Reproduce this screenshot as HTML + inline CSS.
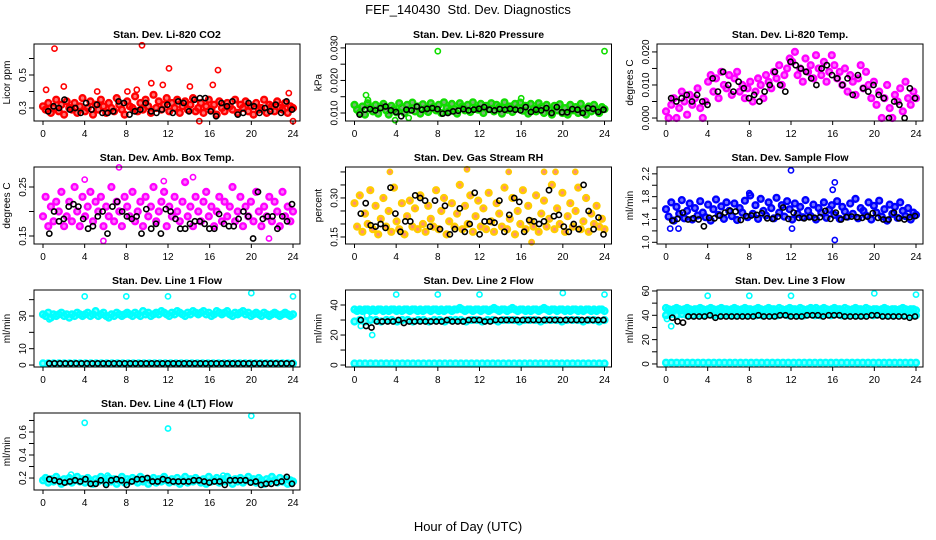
<!DOCTYPE html>
<html><head><meta charset="utf-8">
<style>
html,body{margin:0;padding:0;background:#fff;}
svg{display:block;font-family:"Liberation Sans",Arial,sans-serif;}
</style></head>
<body>
<svg id="chart" width="936" height="540" viewBox="0 0 936 540" xmlns="http://www.w3.org/2000/svg">
<rect x="0" y="0" width="936" height="540" fill="#fff"/>
<text x="468" y="14" text-anchor="middle" font-size="13" xml:space="preserve">FEF_140430  Std. Dev. Diagnostics</text>
<text x="468" y="531" text-anchor="middle" font-size="13">Hour of Day (UTC)</text>
<g id="panels"></g>
</svg>
<script>
// ---- data ----
const xTicks = [0,4,8,12,16,20,24];
const panelTitles = ["Stan. Dev. Li-820 CO2","Stan. Dev. Li-820 Pressure","Stan. Dev. Li-820 Temp.","Stan. Dev. Amb. Box Temp.","Stan. Dev. Gas Stream RH","Stan. Dev. Sample Flow","Stan. Dev. Line 1 Flow","Stan. Dev. Line 2 Flow","Stan. Dev. Line 3 Flow","Stan. Dev. Line 4 (LT) Flow"];
const yUnits = ["Licor ppm","kPa","degrees C","degrees C","percent","ml/min","ml/min","ml/min","ml/min","ml/min"];

const co2Main = [0.31,0.29,0.33,0.27,0.30,0.35,0.28,0.32,0.26,0.34,0.30,0.29,0.33,0.27,0.31,0.36,0.28,0.30,0.34,0.26,0.32,0.29,0.35,0.31,0.27,0.33,0.30,0.28,0.36,0.32,0.29,0.26,0.34,0.31,0.30,0.37,0.28,0.33,0.29,0.35,0.31,0.27,0.38,0.30,0.34,0.29,0.32,0.36,0.28,0.33,0.30,0.35,0.27,0.31,0.34,0.29,0.32,0.36,0.28,0.30,0.33,0.27,0.31,0.35,0.29,0.32,0.26,0.34,0.30,0.28,0.33,0.31,0.29,0.35,0.27,0.32,0.30,0.34,0.28,0.31,0.26,0.33,0.29,0.30,0.35,0.27,0.32,0.31,0.28,0.34,0.30,0.29,0.33,0.27,0.31,0.30];
const co2Black = [0.28,0.31,0.30,0.35,0.29,0.30,0.27,0.33,0.29,0.32,0.27,0.27,0.28,0.34,0.33,0.26,0.28,0.29,0.33,0.28,0.27,0.29,0.32,0.27,0.34,0.33,0.28,0.35,0.36,0.36,0.28,0.25,0.33,0.31,0.34,0.26,0.27,0.33,0.31,0.27,0.30,0.28,0.32,0.27,0.34,0.29];
const co2OutX = [1.1,9.5,12.1,16.8,10.4,0.3,2.0,5.2,8.1,14.1,16.3,11.5,23.6,15.0,24.0,9.0];
const co2OutY = [0.66,0.68,0.54,0.53,0.45,0.41,0.43,0.40,0.40,0.43,0.44,0.44,0.39,0.22,0.22,0.41];

const presMain = [0.0125,0.0110,0.0100,0.0120,0.0095,0.0130,0.0115,0.0105,0.0125,0.0098,0.0118,0.0128,0.0108,0.0095,0.0122,0.0112,0.0102,0.0130,0.0117,0.0100,0.0125,0.0110,0.0132,0.0105,0.0120,0.0098,0.0127,0.0113,0.0103,0.0130,0.0118,0.0108,0.0125,0.0100,0.0133,0.0115,0.0105,0.0128,0.0112,0.0098,0.0130,0.0120,0.0108,0.0125,0.0103,0.0133,0.0115,0.0110,0.0128,0.0100,0.0122,0.0112,0.0130,0.0105,0.0125,0.0117,0.0098,0.0133,0.0110,0.0120,0.0103,0.0128,0.0115,0.0132,0.0107,0.0122,0.0098,0.0128,0.0113,0.0105,0.0130,0.0118,0.0100,0.0125,0.0110,0.0095,0.0122,0.0108,0.0127,0.0100,0.0115,0.0095,0.0125,0.0108,0.0118,0.0100,0.0128,0.0112,0.0095,0.0120,0.0105,0.0125,0.0110,0.0100,0.0118,0.0112];
const presBlack = [0.0095,0.0110,0.0112,0.0108,0.0115,0.0120,0.0108,0.0103,0.0090,0.0110,0.0108,0.0120,0.0110,0.0113,0.0115,0.0112,0.0098,0.0100,0.0105,0.0107,0.0112,0.0108,0.0110,0.0113,0.0118,0.0110,0.0108,0.0112,0.0110,0.0113,0.0110,0.0108,0.0118,0.0103,0.0110,0.0108,0.0115,0.0100,0.0118,0.0102,0.0102,0.0112,0.0110,0.0100,0.0115,0.0113,0.0103,0.0110];
const presOutX = [8.0,24.0,1.1,16.0,5.2,3.9,1.3];
const presOutY = [0.029,0.029,0.0155,0.0145,0.0085,0.0078,0.0140];

const tempMain = [0.002,0.000,0.004,0.006,0.000,0.003,0.008,0.005,0.001,0.007,0.004,0.006,0.009,0.003,0.000,0.005,0.011,0.013,0.008,0.012,0.006,0.014,0.010,0.009,0.013,0.007,0.012,0.014,0.008,0.010,0.006,0.009,0.011,0.005,0.008,0.012,0.010,0.006,0.013,0.011,0.009,0.014,0.012,0.016,0.010,0.013,0.015,0.018,0.017,0.020,0.013,0.015,0.011,0.018,0.014,0.016,0.012,0.019,0.015,0.013,0.017,0.011,0.014,0.019,0.016,0.012,0.014,0.010,0.015,0.008,0.013,0.011,0.007,0.012,0.016,0.009,0.014,0.010,0.006,0.011,0.004,0.008,0.000,0.006,0.010,0.003,0.000,0.007,0.005,0.009,0.002,0.011,0.006,0.004,0.008,0.006];
const tempBlack = [0.006,0.005,0.006,0.007,0.005,0.007,0.005,0.004,0.012,0.008,0.014,0.010,0.008,0.011,0.009,0.006,0.007,0.005,0.008,0.010,0.014,0.010,0.008,0.017,0.016,0.015,0.014,0.012,0.010,0.015,0.016,0.013,0.012,0.010,0.012,0.007,0.013,0.009,0.008,0.010,0.007,0.006,0.000,0.005,0.004,0.000,0.009,0.006];

const ambMain = [0.19,0.23,0.17,0.21,0.18,0.22,0.20,0.24,0.17,0.19,0.22,0.18,0.25,0.20,0.17,0.23,0.19,0.21,0.24,0.18,0.22,0.20,0.23,0.17,0.21,0.19,0.25,0.18,0.22,0.20,0.17,0.23,0.21,0.19,0.24,0.18,0.20,0.22,0.17,0.23,0.19,0.21,0.25,0.18,0.20,0.22,0.24,0.17,0.21,0.19,0.23,0.20,0.18,0.22,0.26,0.19,0.21,0.17,0.23,0.20,0.18,0.22,0.24,0.19,0.21,0.17,0.20,0.23,0.18,0.22,0.19,0.21,0.25,0.18,0.20,0.23,0.17,0.21,0.19,0.22,0.18,0.24,0.20,0.17,0.21,0.19,0.23,0.18,0.22,0.20,0.17,0.24,0.19,0.21,0.18,0.20];
const ambBlack = [0.155,0.20,0.18,0.185,0.21,0.215,0.21,0.185,0.165,0.17,0.19,0.20,0.155,0.21,0.22,0.20,0.19,0.185,0.19,0.155,0.205,0.165,0.175,0.155,0.205,0.20,0.185,0.165,0.165,0.175,0.18,0.18,0.175,0.165,0.165,0.195,0.175,0.17,0.17,0.185,0.20,0.19,0.145,0.24,0.185,0.19,0.19,0.165,0.19,0.18,0.215];
const ambOutX = [7.3,5.8,4.0,14.4,11.6,21.7];
const ambOutY = [0.29,0.14,0.265,0.27,0.262,0.145];

const rhMain = [0.28,0.19,0.31,0.17,0.24,0.20,0.33,0.18,0.27,0.16,0.22,0.30,0.19,0.25,0.17,0.34,0.21,0.18,0.28,0.16,0.23,0.29,0.19,0.26,0.18,0.31,0.20,0.17,0.27,0.22,0.19,0.33,0.18,0.25,0.30,0.16,0.21,0.28,0.19,0.24,0.35,0.18,0.27,0.20,0.31,0.17,0.23,0.29,0.19,0.26,0.18,0.32,0.21,0.17,0.28,0.24,0.19,0.34,0.18,0.22,0.30,0.16,0.25,0.20,0.33,0.18,0.27,0.21,0.19,0.31,0.17,0.24,0.29,0.19,0.22,0.35,0.18,0.26,0.20,0.32,0.17,0.23,0.28,0.19,0.25,0.34,0.18,0.21,0.30,0.17,0.24,0.20,0.27,0.19,0.22,0.18];
const rhBlack = [0.24,0.28,0.195,0.19,0.20,0.185,0.34,0.24,0.17,0.21,0.21,0.31,0.30,0.29,0.19,0.29,0.18,0.27,0.16,0.18,0.26,0.17,0.20,0.32,0.16,0.21,0.21,0.205,0.29,0.17,0.235,0.30,0.285,0.17,0.215,0.21,0.20,0.21,0.33,0.23,0.235,0.19,0.17,0.20,0.18,0.35,0.25,0.18,0.225,0.16];
const rhOutX = [3.4,10.8,14.8,17.0,18.2,19.3,21.2];
const rhOutY = [0.40,0.41,0.40,0.13,0.40,0.40,0.40];

const flowMain = [1.58,1.45,1.70,1.38,1.62,1.50,1.74,1.42,1.55,1.68,1.40,1.60,1.47,1.72,1.52,1.44,1.66,1.38,1.58,1.75,1.48,1.63,1.41,1.70,1.55,1.46,1.68,1.39,1.60,1.52,1.73,1.44,1.82,1.50,1.65,1.41,1.76,1.55,1.47,1.70,1.60,1.42,1.78,1.52,1.65,1.45,1.72,1.58,1.40,1.68,1.50,1.62,1.44,1.74,1.55,1.46,1.66,1.40,1.60,1.52,1.70,1.43,1.57,1.65,1.48,1.72,1.41,1.62,1.54,1.45,1.68,1.50,1.76,1.42,1.60,1.55,1.47,1.70,1.40,1.64,1.52,1.73,1.45,1.58,1.38,1.66,1.50,1.62,1.43,1.70,1.55,1.46,1.60,1.40,1.52,1.48];
const flowBlack = [1.38,1.41,1.52,1.40,1.42,1.40,1.28,1.43,1.42,1.47,1.52,1.55,1.54,1.39,1.46,1.47,1.48,1.51,1.42,1.41,1.45,1.61,1.41,1.52,1.43,1.42,1.44,1.43,1.44,1.55,1.41,1.52,1.40,1.44,1.45,1.44,1.43,1.45,1.51,1.43,1.40,1.40,1.52,1.42,1.40,1.44,1.46];
const flowOutX = [12.0,16.2,16.0,16.2,0.4,1.2,12.1,8.0];
const flowOutY = [2.26,2.05,1.92,1.04,1.24,1.24,1.24,1.86];

const l1High = [31,30,32,29,31,30,31,32,30,31,29,31,30,32,31,30,31,32,30,31,33,30,31,32,30,29,31,30,32,31,30,31,32,31,30,32,31,30,33,31,32,30,31,32,31,33,32,31,30,32,31,33,32,31,30,32,31,33,32,31,32,33,31,32,30,31,33,32,31,32,33,31,30,32,31,32,33,31,32,30,31,32,31,30,32,31,30,31,32,31,30,31,32,31,30,31];
const l1Low = [1,1,1,1,1,1,1,1,1,1,1,1,1,1,1,1,1,1,1,1,1,1,1,1,1,1,1,1,1,1,1,1,1,1,1,1,1,1,1,1,1,1,1,1,1,1,1,1];
const l1Black = [1,1,1,1,1,1,1,1,1,1,1,1,1,1,1,1,1,1,1,1,1,1,1,1,1,1,1,1,1,1,1,1,1,1,1,1,1,1,1,1,1,1,1,1,1,1];
const l1OutX = [4.0,8.0,12.0,20.0,24.0,0.6];
const l1OutY = [42,42,42,44,42,28];

const l2High = [37,36,37,36,37,37,36,37,36,37,37,36,37,36,37,37,36,37,36,37,37,36,37,37,36,37,36,37,37,36,37,37,36,37,36,37,37,36,37,37,38,37,36,37,37,36,37,37,36,37,37,36,37,38,37,36,37,37,36,37,38,37,36,37,37,36,37,36,37,37,36,37,38,37,36,37,37,36,37,37,36,37,36,37,37,36,37,36,37,37,36,37,36,37,37,36];
const l2Mid = [29,30,29,30,30,29,30,30,29,30,30,29,30,30,29,30,30,29,30,30,30,29,30,30,29,30,30,29,30,30,30,29,30,30,30,29,30,30,30,29,30,30,30,29,30,30,29,30];
const l2Low = [1,1,1,1,1,1,1,1,1,1,1,1,1,1,1,1,1,1,1,1,1,1,1,1,1,1,1,1,1,1,1,1,1,1,1,1,1,1,1,1,1,1,1,1,1,1,1,1];
const l2Black = [30,26,25,29,29,29,29,30,28,29,29,29,29,29,29,29,30,29,29,29,30,30,30,29,29,30,30,30,30,30,30,30,30,30,30,30,30,30,30,30,30,30,30,30,30,30];
const l2OutX = [4.0,8.0,12.0,20.0,24.0,1.7,0.6,1.2];
const l2OutY = [47,47,47,48,47,20,26,33];

const l3High = [46,45,44,45,46,45,44,45,46,45,44,45,45,46,45,44,45,46,45,44,45,46,45,45,44,45,46,45,44,45,46,45,45,44,45,46,45,44,45,46,45,45,44,46,45,44,45,46,45,45,44,46,45,44,45,46,45,46,44,45,46,45,44,45,46,45,45,44,46,45,44,45,46,45,45,44,46,45,44,45,45,44,45,46,45,44,45,45,44,45,46,45,44,45,45,44];
const l3Mid = [40,41,40,41,40,40,41,40,41,40,40,41,40,40,41,40,41,40,40,41,40,40,41,40,41,40,40,41,40,40,41,40,41,40,40,41,40,40,41,40,41,40,40,40,41,40,40,40];
const l3Low = [1,1,1,1,1,1,1,1,1,1,1,1,1,1,1,1,1,1,1,1,1,1,1,1,1,1,1,1,1,1,1,1,1,1,1,1,1,1,1,1,1,1,1,1,1,1,1,1];
const l3Black = [38,35,34,39,39,39,39,40,38,39,39,39,39,39,39,39,40,39,39,39,40,40,39,39,39,40,40,40,39,40,40,40,39,39,39,39,39,40,40,39,39,39,39,39,38,39];
const l3OutX = [4.0,8.0,12.0,20.0,24.0,0.5,0.1];
const l3OutY = [56,56,56,58,57,31,37];

const l4Main = [0.18,0.20,0.16,0.19,0.17,0.21,0.18,0.15,0.19,0.17,0.20,0.16,0.18,0.21,0.17,0.19,0.16,0.20,0.18,0.15,0.19,0.17,0.21,0.18,0.16,0.20,0.17,0.19,0.15,0.18,0.21,0.16,0.19,0.17,0.20,0.18,0.16,0.21,0.17,0.19,0.15,0.18,0.20,0.16,0.19,0.17,0.21,0.18,0.16,0.19,0.17,0.20,0.15,0.18,0.21,0.16,0.19,0.17,0.20,0.18,0.16,0.19,0.15,0.21,0.17,0.18,0.20,0.16,0.19,0.17,0.21,0.18,0.15,0.19,0.17,0.20,0.16,0.18,0.21,0.17,0.19,0.16,0.20,0.18,0.15,0.19,0.17,0.21,0.18,0.16,0.20,0.17,0.19,0.15,0.18,0.17];
const l4Black = [0.19,0.18,0.17,0.16,0.17,0.18,0.17,0.19,0.15,0.15,0.18,0.14,0.18,0.19,0.18,0.14,0.17,0.19,0.19,0.20,0.17,0.17,0.19,0.18,0.17,0.17,0.17,0.17,0.18,0.18,0.17,0.16,0.17,0.17,0.14,0.18,0.18,0.18,0.18,0.16,0.17,0.14,0.15,0.15,0.16,0.17,0.21,0.15];
const l4OutX = [4.0,12.0,20.0,2.7,17.3,6.2];
const l4OutY = [0.68,0.63,0.74,0.23,0.22,0.22];

// ---- layout / drawing ----
const NS = "http://www.w3.org/2000/svg";
const root = document.getElementById("panels");
function mk(tag, attrs, parent){
  const e = document.createElementNS(NS, tag);
  for (const k in attrs) e.setAttribute(k, attrs[k]);
  parent.appendChild(e);
  return e;
}
const colLeft = [34, 345.5, 657];
const rowTop = [44, 167, 290, 413];
const boxW = 266, boxH = 77;

function panel(idx, yLo, yHi, yTickVals, yLabelVals, yFmt, series, slug){
  const c = idx % 3, r = Math.floor(idx / 3);
  const L = colLeft[c], T = rowTop[r], B = T + boxH;
  const g = mk("g", {}, root);
  
  
  const xs = h => L + 9 + h * 250 / 24;
  const ys = v => B - (v - yLo) / (yHi - yLo) * boxH;
  series.forEach(s => {
    const sg = mk("g", {}, g);
    
    
    const n = s.ys.length;
    s.ys.forEach((v, i) => {
      const h = s.xs ? s.xs[i] : s.x0 + i * (s.x1 - s.x0) / (n - 1);
      const cy = ys(v);
      if (cy < T - 1 || cy > B + 1) return;
      const pt = mk("circle", {cx: xs(h).toFixed(1), cy: cy.toFixed(1), r: s.r || 2.6, fill: s.fill || "none", "fill-opacity": s.fo || 1, stroke: s.color, "stroke-width": s.sw || 1.6}, sg);
      
      
    });
  });
  const box = mk("rect", {x: L, y: T, width: boxW, height: boxH, fill: "none", stroke: "#000", "stroke-width": 1}, g);
  
  
  const t = mk("text", {x: L + boxW / 2, y: T - 6, "text-anchor": "middle", "font-size": 10.5, "font-weight": "bold"}, g);
  t.textContent = panelTitles[idx];
  
  
  const xa = mk("g", {}, g);
  
  
  mk("line", {x1: xs(xTicks[0]), x2: xs(xTicks[xTicks.length - 1]), y1: B, y2: B, stroke: "#000"}, xa);
  xTicks.forEach(h => {
    mk("line", {x1: xs(h), x2: xs(h), y1: B, y2: B + 4, stroke: "#000"}, xa);
    const lb = mk("text", {x: xs(h), y: B + 16, "text-anchor": "middle", "font-size": 10}, xa);
    lb.textContent = String(h);
    
    
  });
  const ya = mk("g", {}, g);
  
  
  mk("line", {x1: L, x2: L, y1: ys(yTickVals[0]), y2: ys(yTickVals[yTickVals.length - 1]), stroke: "#000"}, ya);
  yTickVals.forEach(v => mk("line", {x1: L - 5, x2: L, y1: ys(v), y2: ys(v), stroke: "#000"}, ya));
  yLabelVals.forEach(v => {
    const yy = ys(v), xx = L - 8;
    const lb = mk("text", {x: xx, y: yy, "text-anchor": "middle", "font-size": 10, transform: `rotate(-90 ${xx} ${yy})`}, ya);
    lb.textContent = v.toFixed(yFmt);
    
    
  });
  const yt = L - 24, ym = T + boxH / 2;
  const ut = mk("text", {x: yt, y: ym, "text-anchor": "middle", "font-size": 10, transform: `rotate(-90 ${yt} ${ym})`}, g);
  ut.textContent = yUnits[idx];
  
  
}

const big = {r: 2.9, sw: 2.4, fo: 0.55};
panel(0, 0.221, 0.688, [0.3,0.4,0.5,0.6], [0.3,0.5], 1, [
  {name: "main", ys: co2Main, x0: 0, x1: 24, color: "#ff0000", fill: "#ff0000", ...big},
  {name: "outliers", ys: co2OutY, xs: co2OutX, color: "#ff0000"},
  {name: "black", ys: co2Black, x0: 0.5, x1: 23.9, color: "#000"}], "co2");
panel(1, 0.00754, 0.0312, [0.010,0.015,0.020,0.025,0.030], [0.010,0.020,0.030], 3, [
  {name: "main", ys: presMain, x0: 0, x1: 24, color: "#11dd00", fill: "#0a7700", ...big},
  {name: "outliers", ys: presOutY, xs: presOutX, color: "#11dd00"},
  {name: "black", ys: presBlack, x0: 0.5, x1: 23.9, color: "#000"}], "pressure");
panel(2, -0.0009, 0.0224, [0,0.005,0.010,0.015,0.020], [0,0.010,0.020], 3, [
  {name: "main", ys: tempMain, x0: 0, x1: 24, color: "#ff00ff", fill: "#ff00ff", ...big},
  {name: "black", ys: tempBlack, x0: 0.5, x1: 23.9, color: "#000"}], "li820-temp");
panel(3, 0.1337, 0.2908, [0.15,0.20,0.25], [0.15,0.25], 2, [
  {name: "main", ys: ambMain, x0: 0, x1: 24, color: "#ff00ff", fill: "#ff00ff", ...big},
  {name: "outliers", ys: ambOutY, xs: ambOutX, color: "#ff00ff"},
  {name: "black", ys: ambBlack, x0: 0.6, x1: 23.9, color: "#000"}], "amb-box-temp");
panel(4, 0.123, 0.419, [0.15,0.20,0.25,0.30,0.35,0.40], [0.15,0.30], 2, [
  {name: "main", ys: rhMain, x0: 0, x1: 24, color: "#ffcc00", fill: "#ff3300", ...big},
  {name: "outliers", ys: rhOutY, xs: rhOutX, color: "#ffcc00", fill: "#ff3300", fo: 0.55},
  {name: "black", ys: rhBlack, x0: 0.6, x1: 23.9, color: "#000"}], "gas-rh");
panel(5, 0.97, 2.32, [1.0,1.2,1.4,1.6,1.8,2.0,2.2], [1.0,1.4,1.8,2.2], 1, [
  {name: "main", ys: flowMain, x0: 0, x1: 24, color: "#0000ff", fill: "#0000ff", ...big},
  {name: "outliers", ys: flowOutY, xs: flowOutX, color: "#0000ff"},
  {name: "black", ys: flowBlack, x0: 0.6, x1: 23.9, color: "#000"}], "sample-flow");
panel(6, -1.2, 45.9, [0,10,20,30,40], [0,10,30], 0, [
  {name: "high", ys: l1High, x0: 0, x1: 24, color: "#00ffff", fill: "#00ffff", ...big},
  {name: "low", ys: l1Low, x0: 0, x1: 24, color: "#00ffff", fill: "#00ffff", ...big},
  {name: "outliers", ys: l1OutY, xs: l1OutX, color: "#00ffff"},
  {name: "black", ys: l1Black, x0: 0.6, x1: 23.9, color: "#000"}], "line1");
panel(7, -1.3, 50, [0,10,20,30,40], [0,20,40], 0, [
  {name: "high", ys: l2High, x0: 0, x1: 24, color: "#00ffff", fill: "#00ffff", ...big},
  {name: "mid", ys: l2Mid, x0: 0, x1: 24, color: "#00ffff", fill: "#00ffff", ...big},
  {name: "low", ys: l2Low, x0: 0, x1: 24, color: "#00ffff", fill: "#00ffff", ...big},
  {name: "outliers", ys: l2OutY, xs: l2OutX, color: "#00ffff"},
  {name: "black", ys: l2Black, x0: 0.6, x1: 23.9, color: "#000"}], "line2");
panel(8, -2.5, 60.8, [0,10,20,30,40,50,60], [0,20,40,60], 0, [
  {name: "high", ys: l3High, x0: 0, x1: 24, color: "#00ffff", fill: "#00ffff", ...big},
  {name: "mid", ys: l3Mid, x0: 0, x1: 24, color: "#00ffff", fill: "#00ffff", ...big},
  {name: "low", ys: l3Low, x0: 0, x1: 24, color: "#00ffff", fill: "#00ffff", ...big},
  {name: "outliers", ys: l3OutY, xs: l3OutX, color: "#00ffff"},
  {name: "black", ys: l3Black, x0: 0.6, x1: 23.9, color: "#000"}], "line3");
panel(9, 0.096, 0.765, [0.2,0.3,0.4,0.5,0.6,0.7], [0.2,0.4,0.6], 1, [
  {name: "main", ys: l4Main, x0: 0, x1: 24, color: "#00ffff", fill: "#00ffff", ...big},
  {name: "outliers", ys: l4OutY, xs: l4OutX, color: "#00ffff"},
  {name: "black", ys: l4Black, x0: 0.6, x1: 23.9, color: "#000"}], "line4");
</script>
</body></html>
